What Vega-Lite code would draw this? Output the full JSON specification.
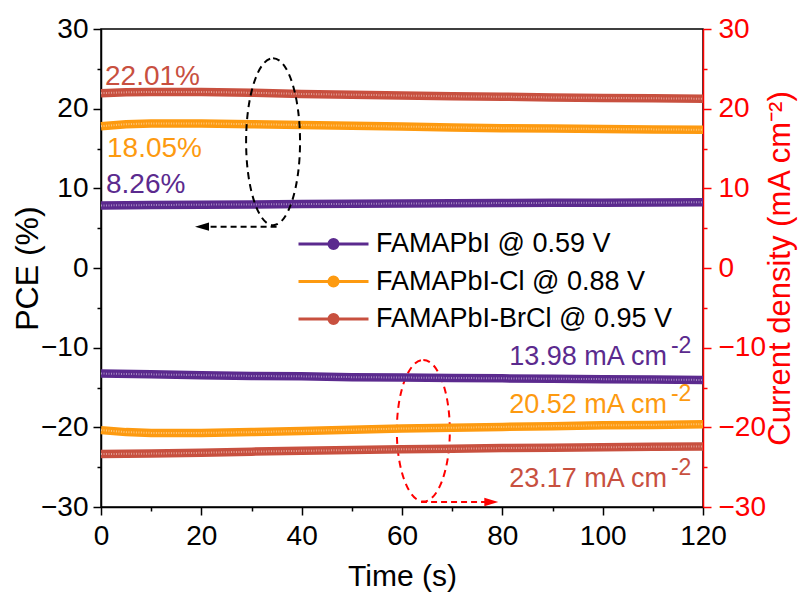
{
  "$schema": "https://vega.github.io/schema/vega-lite/v6.json",
  "width": 602,
  "height": 478,
  "autosize": {"type": "none"},
  "padding": {"left": 101, "top": 29, "right": 99, "bottom": 88},
  "background": "white",
  "config": {
    "font": "Liberation Sans",
    "view": {"stroke": "black", "strokeWidth": 1.5},
    "axis": {
      "labelFont": "Liberation Sans",
      "labelFontSize": 28,
      "labelColor": "black",
      "titleFont": "Liberation Sans",
      "titleFontSize": 30,
      "titleFontWeight": "normal",
      "titleColor": "black",
      "domainColor": "black",
      "tickColor": "black",
      "domainWidth": 1.5,
      "tickWidth": 1.5,
      "grid": false,
      "labelFlush": false,
      "labelOverlap": false
    }
  },
  "datasets": {
    "pce": [
      {"t": 0, "s": "FAMAPbI @ 0.59 V", "v": 7.85},
      {"t": 10, "s": "FAMAPbI @ 0.59 V", "v": 7.9},
      {"t": 20, "s": "FAMAPbI @ 0.59 V", "v": 7.95},
      {"t": 30, "s": "FAMAPbI @ 0.59 V", "v": 7.98},
      {"t": 40, "s": "FAMAPbI @ 0.59 V", "v": 8.02},
      {"t": 50, "s": "FAMAPbI @ 0.59 V", "v": 8.05},
      {"t": 60, "s": "FAMAPbI @ 0.59 V", "v": 8.1},
      {"t": 70, "s": "FAMAPbI @ 0.59 V", "v": 8.12},
      {"t": 80, "s": "FAMAPbI @ 0.59 V", "v": 8.15},
      {"t": 90, "s": "FAMAPbI @ 0.59 V", "v": 8.18},
      {"t": 100, "s": "FAMAPbI @ 0.59 V", "v": 8.2},
      {"t": 110, "s": "FAMAPbI @ 0.59 V", "v": 8.22},
      {"t": 120, "s": "FAMAPbI @ 0.59 V", "v": 8.25},
      {"t": 0, "s": "FAMAPbI-Cl @ 0.88 V", "v": 17.8},
      {"t": 5, "s": "FAMAPbI-Cl @ 0.88 V", "v": 18.05},
      {"t": 10, "s": "FAMAPbI-Cl @ 0.88 V", "v": 18.15},
      {"t": 20, "s": "FAMAPbI-Cl @ 0.88 V", "v": 18.15},
      {"t": 30, "s": "FAMAPbI-Cl @ 0.88 V", "v": 18.05},
      {"t": 40, "s": "FAMAPbI-Cl @ 0.88 V", "v": 17.95},
      {"t": 50, "s": "FAMAPbI-Cl @ 0.88 V", "v": 17.85},
      {"t": 60, "s": "FAMAPbI-Cl @ 0.88 V", "v": 17.75},
      {"t": 70, "s": "FAMAPbI-Cl @ 0.88 V", "v": 17.65},
      {"t": 80, "s": "FAMAPbI-Cl @ 0.88 V", "v": 17.55},
      {"t": 90, "s": "FAMAPbI-Cl @ 0.88 V", "v": 17.5},
      {"t": 100, "s": "FAMAPbI-Cl @ 0.88 V", "v": 17.45},
      {"t": 110, "s": "FAMAPbI-Cl @ 0.88 V", "v": 17.4},
      {"t": 120, "s": "FAMAPbI-Cl @ 0.88 V", "v": 17.35},
      {"t": 0, "s": "FAMAPbI-BrCl @ 0.95 V", "v": 21.95},
      {"t": 5, "s": "FAMAPbI-BrCl @ 0.95 V", "v": 22.05},
      {"t": 10, "s": "FAMAPbI-BrCl @ 0.95 V", "v": 22.1},
      {"t": 20, "s": "FAMAPbI-BrCl @ 0.95 V", "v": 22.1},
      {"t": 30, "s": "FAMAPbI-BrCl @ 0.95 V", "v": 22.0},
      {"t": 40, "s": "FAMAPbI-BrCl @ 0.95 V", "v": 21.85},
      {"t": 50, "s": "FAMAPbI-BrCl @ 0.95 V", "v": 21.75},
      {"t": 60, "s": "FAMAPbI-BrCl @ 0.95 V", "v": 21.65},
      {"t": 70, "s": "FAMAPbI-BrCl @ 0.95 V", "v": 21.55},
      {"t": 80, "s": "FAMAPbI-BrCl @ 0.95 V", "v": 21.5},
      {"t": 90, "s": "FAMAPbI-BrCl @ 0.95 V", "v": 21.4},
      {"t": 100, "s": "FAMAPbI-BrCl @ 0.95 V", "v": 21.35},
      {"t": 110, "s": "FAMAPbI-BrCl @ 0.95 V", "v": 21.3},
      {"t": 120, "s": "FAMAPbI-BrCl @ 0.95 V", "v": 21.25}
    ],
    "cur": [
      {"t": 0, "s": "FAMAPbI @ 0.59 V", "v": -13.25},
      {"t": 10, "s": "FAMAPbI @ 0.59 V", "v": -13.35},
      {"t": 20, "s": "FAMAPbI @ 0.59 V", "v": -13.45},
      {"t": 30, "s": "FAMAPbI @ 0.59 V", "v": -13.55},
      {"t": 40, "s": "FAMAPbI @ 0.59 V", "v": -13.6},
      {"t": 50, "s": "FAMAPbI @ 0.59 V", "v": -13.7},
      {"t": 60, "s": "FAMAPbI @ 0.59 V", "v": -13.75},
      {"t": 70, "s": "FAMAPbI @ 0.59 V", "v": -13.8},
      {"t": 80, "s": "FAMAPbI @ 0.59 V", "v": -13.85},
      {"t": 90, "s": "FAMAPbI @ 0.59 V", "v": -13.9},
      {"t": 100, "s": "FAMAPbI @ 0.59 V", "v": -13.95},
      {"t": 110, "s": "FAMAPbI @ 0.59 V", "v": -14.0},
      {"t": 120, "s": "FAMAPbI @ 0.59 V", "v": -14.05},
      {"t": 0, "s": "FAMAPbI-Cl @ 0.88 V", "v": -20.35},
      {"t": 5, "s": "FAMAPbI-Cl @ 0.88 V", "v": -20.6},
      {"t": 10, "s": "FAMAPbI-Cl @ 0.88 V", "v": -20.7},
      {"t": 20, "s": "FAMAPbI-Cl @ 0.88 V", "v": -20.7},
      {"t": 30, "s": "FAMAPbI-Cl @ 0.88 V", "v": -20.6},
      {"t": 40, "s": "FAMAPbI-Cl @ 0.88 V", "v": -20.45},
      {"t": 50, "s": "FAMAPbI-Cl @ 0.88 V", "v": -20.3},
      {"t": 60, "s": "FAMAPbI-Cl @ 0.88 V", "v": -20.15},
      {"t": 70, "s": "FAMAPbI-Cl @ 0.88 V", "v": -20.05},
      {"t": 80, "s": "FAMAPbI-Cl @ 0.88 V", "v": -19.95},
      {"t": 90, "s": "FAMAPbI-Cl @ 0.88 V", "v": -19.85},
      {"t": 100, "s": "FAMAPbI-Cl @ 0.88 V", "v": -19.75},
      {"t": 110, "s": "FAMAPbI-Cl @ 0.88 V", "v": -19.7},
      {"t": 120, "s": "FAMAPbI-Cl @ 0.88 V", "v": -19.6},
      {"t": 0, "s": "FAMAPbI-BrCl @ 0.95 V", "v": -23.35},
      {"t": 10, "s": "FAMAPbI-BrCl @ 0.95 V", "v": -23.3},
      {"t": 20, "s": "FAMAPbI-BrCl @ 0.95 V", "v": -23.2},
      {"t": 30, "s": "FAMAPbI-BrCl @ 0.95 V", "v": -23.05},
      {"t": 40, "s": "FAMAPbI-BrCl @ 0.95 V", "v": -22.95},
      {"t": 50, "s": "FAMAPbI-BrCl @ 0.95 V", "v": -22.85},
      {"t": 60, "s": "FAMAPbI-BrCl @ 0.95 V", "v": -22.75},
      {"t": 70, "s": "FAMAPbI-BrCl @ 0.95 V", "v": -22.7},
      {"t": 80, "s": "FAMAPbI-BrCl @ 0.95 V", "v": -22.6},
      {"t": 90, "s": "FAMAPbI-BrCl @ 0.95 V", "v": -22.55},
      {"t": 100, "s": "FAMAPbI-BrCl @ 0.95 V", "v": -22.5},
      {"t": 110, "s": "FAMAPbI-BrCl @ 0.95 V", "v": -22.45},
      {"t": 120, "s": "FAMAPbI-BrCl @ 0.95 V", "v": -22.4}
    ],
    "pctLabels": [
      {"t": 0.8, "v": 22.97, "label": "22.01%", "s": "FAMAPbI-BrCl @ 0.95 V"},
      {"t": 1.2, "v": 13.93, "label": "18.05%", "s": "FAMAPbI-Cl @ 0.88 V"},
      {"t": 1.0, "v": 9.41, "label": "8.26%", "s": "FAMAPbI @ 0.59 V"}
    ],
    "curLabels": [
      {"t": 112.8, "v": -12.17, "label": "13.98 mA cm", "sup": "-2", "s": "FAMAPbI @ 0.59 V"},
      {"t": 112.8, "v": -18.24, "label": "20.52 mA cm", "sup": "-2", "s": "FAMAPbI-Cl @ 0.88 V"},
      {"t": 112.8, "v": -27.45, "label": "23.17 mA cm", "sup": "-2", "s": "FAMAPbI-BrCl @ 0.95 V"}
    ],
    "blackEllipse": [{"t": 34.3, "v": 15.85}],
    "redEllipse": [{"t": 64.25, "v": -20.43}],
    "blackArrow": [{"t": 35.0, "t2": 20.6, "v": 5.19, "th": 20.13}],
    "redArrow": [{"t": 63.8, "t2": 77.2, "v": -29.37, "th": 77.8}]
  },
  "encoding": {
    "x": {
      "field": "t",
      "type": "quantitative",
      "scale": {"domain": [0, 120], "nice": false},
      "axis": {
        "title": "Time (s)",
        "values": [0, 10, 20, 30, 40, 50, 60, 70, 80, 90, 100, 110, 120],
        "labelExpr": "datum.value % 20 === 0 ? datum.label : ''",
        "tickSize": {"condition": {"test": "datum.value % 20 === 0", "value": 8}, "value": 4},
        "labelPadding": 7,
        "titlePadding": 11
      }
    }
  },
  "layer": [
    {
      "encoding": {
        "y": {
          "field": "v",
          "type": "quantitative",
          "scale": {"domain": [-30, 30], "nice": false},
          "axis": {
            "title": "PCE (%)",
            "titleFontSize": 32,
            "values": [-30, -25, -20, -15, -10, -5, 0, 5, 10, 15, 20, 25, 30],
            "labelExpr": "datum.value % 10 === 0 ? datum.label : ''",
            "tickSize": {"condition": {"test": "datum.value % 10 === 0", "value": 8}, "value": 4},
            "labelPadding": 5,
            "titlePadding": -4
          }
        }
      },
      "layer": [
        {
          "data": {"name": "pce"},
          "mark": {"type": "line", "strokeWidth": 8.5, "strokeCap": "butt"},
          "encoding": {
            "color": {
              "field": "s",
              "type": "nominal",
              "scale": {
                "domain": ["FAMAPbI @ 0.59 V", "FAMAPbI-Cl @ 0.88 V", "FAMAPbI-BrCl @ 0.95 V"],
                "range": ["#5b2a8e", "#fd9a10", "#c8503f"]
              },
              "legend": {
                "orient": "none",
                "legendX": 196,
                "legendY": 200,
                "title": null,
                "padding": 0,
                "symbolType": "M -1 0 L 1 0 M 0.13 0 A 0.13 0.13 0 1 1 -0.13 0 A 0.13 0.13 0 1 1 0.13 0 Z",
                "symbolSize": 4900,
                "symbolStrokeWidth": 3,
                "clipHeight": 30,
                "rowPadding": 7.5,
                "labelFont": "Liberation Sans",
                "labelFontSize": 27,
                "labelColor": "black",
                "labelLimit": 500,
                "labelOffset": 6,
                "encode": {"symbols": {"update": {"fill": {"scale": "color", "field": "value"}, "fillOpacity": {"value": 1}}}}
              }
            }
          }
        },
        {
          "data": {"name": "pce"},
          "mark": {"type": "line", "strokeWidth": 2, "strokeDash": [1, 1.5], "opacity": 0.45, "color": "white", "strokeCap": "butt"},
          "encoding": {"detail": {"field": "s"}}
        },
        {
          "data": {"name": "pctLabels"},
          "mark": {"type": "text", "align": "left", "baseline": "alphabetic", "fontSize": 28, "font": "Liberation Sans"},
          "encoding": {"text": {"field": "label"}, "color": {"field": "s", "type": "nominal"}}
        },
        {
          "data": {"name": "curLabels"},
          "mark": {"type": "text", "align": "right", "baseline": "alphabetic", "fontSize": 27, "font": "Liberation Sans"},
          "encoding": {"text": {"field": "label"}, "color": {"field": "s", "type": "nominal"}}
        },
        {
          "data": {"name": "curLabels"},
          "mark": {"type": "text", "align": "left", "baseline": "alphabetic", "fontSize": 23, "dx": 4, "dy": -12, "font": "Liberation Sans"},
          "encoding": {"text": {"field": "sup"}, "color": {"field": "s", "type": "nominal"}}
        },
        {
          "data": {"name": "blackEllipse"},
          "mark": {"type": "point", "shape": "M 0 -1 A 0.323 1 0 1 1 0 1 A 0.323 1 0 1 1 0 -1 Z", "size": 27889, "filled": false, "stroke": "black", "strokeWidth": 2, "strokeDash": [7, 5], "opacity": 1}
        },
        {
          "data": {"name": "redEllipse"},
          "mark": {"type": "point", "shape": "M 0 -1 A 0.374 1 0 1 1 0 1 A 0.374 1 0 1 1 0 -1 Z", "size": 20079, "filled": false, "stroke": "#ff0000", "strokeWidth": 2, "strokeDash": [7, 5], "opacity": 1}
        },
        {
          "data": {"name": "blackArrow"},
          "mark": {"type": "rule", "color": "black", "strokeWidth": 2, "strokeDash": [6, 4]},
          "encoding": {"x2": {"field": "t2"}}
        },
        {
          "data": {"name": "blackArrow"},
          "mark": {"type": "point", "shape": "M 1 -0.6 L -1 0 L 1 0.6 Z", "size": 196, "filled": true, "color": "black", "opacity": 1},
          "encoding": {"x": {"field": "th", "type": "quantitative"}}
        },
        {
          "data": {"name": "redArrow"},
          "mark": {"type": "rule", "color": "#ff0000", "strokeWidth": 2, "strokeDash": [6, 4]},
          "encoding": {"x2": {"field": "t2"}}
        },
        {
          "data": {"name": "redArrow"},
          "mark": {"type": "point", "shape": "M -1 -0.6 L 1 0 L -1 0.6 Z", "size": 196, "filled": true, "color": "#ff0000", "opacity": 1},
          "encoding": {"x": {"field": "th", "type": "quantitative"}}
        }
      ]
    },
    {
      "encoding": {
        "y": {
          "field": "v",
          "type": "quantitative",
          "scale": {"domain": [-30, 30], "nice": false},
          "axis": {
            "orient": "right",
            "title": "Current density (mA cm⁻²)",
            "titleFontSize": 31,
            "values": [-30, -25, -20, -15, -10, -5, 0, 5, 10, 15, 20, 25, 30],
            "labelExpr": "datum.value % 10 === 0 ? datum.label : ''",
            "tickSize": {"condition": {"test": "datum.value % 10 === 0", "value": 8}, "value": 4},
            "domainColor": "#ff0000",
            "tickColor": "#ff0000",
            "labelColor": "#ff0000",
            "titleColor": "#ff0000",
            "titleAngle": 270,
            "titleBaseline": "top",
            "labelPadding": 7,
            "titlePadding": 0
          }
        }
      },
      "layer": [
        {
          "data": {"name": "cur"},
          "mark": {"type": "line", "strokeWidth": 8.5, "strokeCap": "butt"},
          "encoding": {"color": {"field": "s", "type": "nominal"}}
        },
        {
          "data": {"name": "cur"},
          "mark": {"type": "line", "strokeWidth": 2, "strokeDash": [1, 1.5], "opacity": 0.45, "color": "white", "strokeCap": "butt"},
          "encoding": {"detail": {"field": "s"}}
        }
      ]
    }
  ],
  "resolve": {"scale": {"y": "independent"}}
}
